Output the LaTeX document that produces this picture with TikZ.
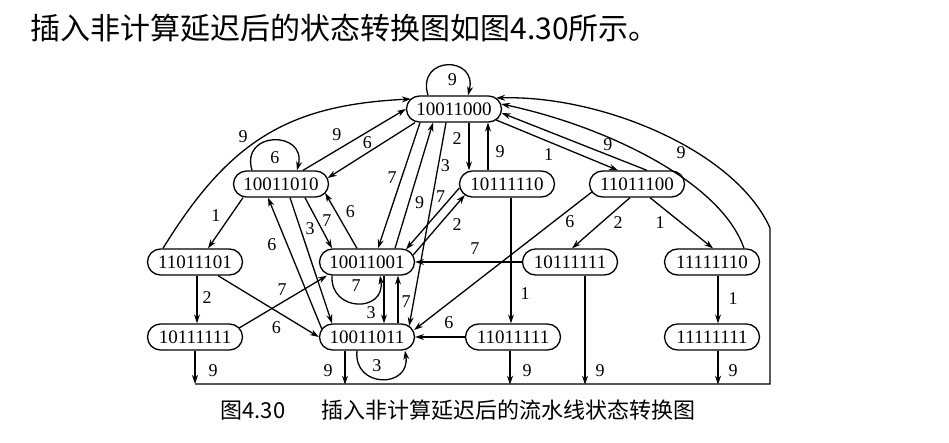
\documentclass[tikz,border=0pt]{standalone}
\usepackage{fontspec}
\setmainfont{Liberation Serif}
\newfontfamily\cjk{Noto Sans CJK SC}
\usetikzlibrary{arrows.meta,shapes.misc}
\tikzset{
  state/.style={draw,rounded rectangle,minimum width=95pt,minimum height=26pt,inner sep=0pt,font=\fontsize{19}{19}\selectfont},
  lab/.style={inner sep=0pt,font=\fontsize{18}{18}\selectfont}
}

\begin{document}
\begin{tikzpicture}[x=1pt,y=-1pt,line width=1.3pt,>={Stealth[length=9pt,width=6pt]}]
\useasboundingbox (0,0) rectangle (949,443);
\node[anchor=west,inner sep=0pt,font=\cjk\fontsize{30}{30}\selectfont] (title) at (30,28) {插入非计算延迟后的状态转换图如图4.30所示。};
% states
\node[state] (A) at (454,109) {10011000};
\node[state] (B) at (281,184) {10011010};
\node[state] (C) at (507,184) {10111110};
\node[state] (D) at (637,184) {11011100};
\node[state] (E) at (195,262) {11011101};
\node[state] (F) at (367,262) {10011001};
\node[state] (G) at (570,262) {10111111};
\node[state] (H) at (712,262) {11111110};
\node[state] (I) at (195,337) {10111111};
\node[state] (J) at (367,337) {10011011};
\node[state] (K) at (513,337) {11011111};
\node[state] (L) at (712,337) {11111111};
% return line along the bottom
\coordinate (fl) at (195,384);
\coordinate (fr) at (770,384);
\coordinate (fc) at (770,228);
% self loops
\draw[->] ([xshift=-26pt]A.north) .. controls +(-12pt,40pt) and +(10pt,40pt) .. ([xshift=14pt]A.north) node[lab,pos=0.5,xshift=5pt,yshift=-14pt]{9};
\draw[->] ([xshift=-29pt]B.north) .. controls +(-12pt,40pt) and +(10pt,40pt) .. ([xshift=16pt]B.north) node[lab,pos=0.5,xshift=1pt,yshift=-17pt]{6};
\draw[->] ([xshift=-35pt]F.south) .. controls +(-2pt,-37pt) and +(6pt,-37pt) .. ([xshift=13pt]F.south) node[lab,pos=0.5,xshift=-1.5pt,yshift=18pt]{7};
\draw[->] ([xshift=-10pt]J.south) .. controls +(-4pt,-38pt) and +(6pt,-38pt) .. ([xshift=38pt]J.south) node[lab,pos=0.5,xshift=-5pt,yshift=13.5pt]{3};
% into and out of 10011000
\draw[->] ([xshift=-32pt]E.north) .. controls +(67pt,109pt) and +(-121.5pt,-6pt) .. ([xshift=5pt,yshift=10pt]A.west) node[lab,pos=0.4,xshift=-1pt,yshift=14pt]{9};
\draw[->] ([xshift=22pt]B.north) -- (A.west) node[lab,pos=0.33,yshift=15pt]{9};
\draw[->] ([xshift=-39pt]A.south) -- ([xshift=-1.5pt,yshift=6pt]B.east) node[lab,pos=0.545,yshift=10.5pt]{6};
\draw[->] ([xshift=-34pt]A.south) -- ([xshift=11pt]F.north) node[lab,pos=0.44,xshift=-9.5pt]{7};
\draw[->] ([xshift=28pt]F.north) -- ([xshift=-21pt]A.south) node[lab,pos=0.36,xshift=11pt]{9};
\draw[->] ([xshift=-8pt]A.south) -- ([xshift=-6pt,yshift=11pt]J.east) node[lab,pos=0.21,xshift=7pt]{3};
\draw[->] ([xshift=15pt]A.south) -- ([xshift=-38pt]C.north) node[lab,pos=0.33,xshift=-12pt]{2};
\draw[->] ([xshift=-19pt]C.north) -- ([xshift=34pt]A.south) node[lab,pos=0.39,xshift=12pt]{9};
\draw[->] ([xshift=-6pt,yshift=-11pt]A.east) -- ([xshift=-19pt]D.north) node[lab,pos=0.43,yshift=-13pt]{1};
\draw[->] ([xshift=10pt]D.north) -- ([xshift=-0.5pt,yshift=-4pt]A.east) node[lab,pos=0.27,yshift=10.5pt]{9};
\draw[->] ([xshift=32pt]H.north) .. controls +(-24pt,69pt) and +(99.5pt,-21pt) .. ([xshift=-1pt,yshift=5pt]A.east) node[lab,pos=0.37,xshift=-3pt,yshift=26pt]{9};
\draw[->] (fl) -- (fr) -- (fc) .. controls +(-35pt,78pt) and +(104.5pt,3pt) .. ([xshift=-6pt,yshift=11pt]A.east);
% left part
\draw[->] ([xshift=-38pt]B.south) -- ([xshift=13pt]E.north) node[lab,pos=0.35,xshift=-15pt]{1};
\draw[->] ([xshift=2pt]E.south) -- ([xshift=2pt]I.north) node[lab,pos=0.45,xshift=10pt]{2};
\draw[->] ([xshift=23pt]E.south) -- (J.west) node[lab,pos=0.58,yshift=-16pt]{6};
\draw[->] ([xshift=-4pt,yshift=9pt]I.east) -- ([xshift=-40pt]F.south) node[lab,pos=0.49,yshift=13pt]{7};
\draw[->] ([xshift=3pt,yshift=8pt]J.west) -- ([xshift=-13pt]B.south) node[lab,pos=0.64,xshift=-15.5pt]{6};
\draw[->] ([xshift=9pt]B.south) -- ([xshift=-35pt]J.north) node[lab,pos=0.25,xshift=9.5pt]{3};
\draw[->] ([xshift=24pt]B.south) -- ([xshift=-35pt]F.north) node[lab,pos=0.46,xshift=9.5pt]{7};
\draw[->] ([xshift=-10pt]F.north) -- ([xshift=-4pt,yshift=-9pt]B.east) node[lab,pos=0.66,xshift=14.5pt]{6};
\draw[->] ([xshift=17pt]F.south) -- ([xshift=17pt]J.north) node[lab,pos=0.78,xshift=-13pt]{3};
\draw[->] ([xshift=31pt]J.north) -- ([xshift=31pt]F.south) node[lab,pos=0.45,xshift=8pt]{7};
% right part
\draw[->] ([xshift=0.5pt,yshift=-4pt]C.west) -- ([xshift=39pt,yshift=-1pt]F.north) node[lab,pos=0.145,xshift=-11pt]{7};
\draw[->] ([xshift=-2pt,yshift=7pt]F.east) -- ([xshift=6pt,yshift=-11pt]C.west) node[lab,pos=0.5,xshift=18pt]{2};
\draw[->] (G.west) -- (F.east) node[lab,pos=0.44,yshift=13pt]{7};
\draw[->] ([xshift=3pt,yshift=-8pt]D.west) -- ([xshift=-1pt,yshift=7pt]J.east) node[lab,pos=0.217,xshift=16.5pt]{6};
\draw[->] ([xshift=-7pt]D.south) -- ([xshift=2pt]G.north) node[lab,pos=0.5,xshift=17pt]{2};
\draw[->] ([xshift=13pt]D.south) -- ([xshift=1pt]H.north) node[lab,pos=0.5,xshift=-21.5pt]{1};
\draw[->] ([xshift=4pt]C.south) -- ([xshift=-2pt]K.north) node[lab,pos=0.76,xshift=14pt]{1};
\draw[->] (K.west) -- (J.east) node[lab,pos=0.32,yshift=14pt]{6};
\draw[->] ([xshift=6pt]H.south) -- ([xshift=6pt]L.north) node[lab,pos=0.47,xshift=15pt]{1};
% drops to the return line
\draw[->] (I.south) -- (fl) node[lab,pos=0.59,xshift=18pt]{9};
\draw[->] ([xshift=-22pt]J.south) -- ++(0pt,-34pt) node[lab,pos=0.59,xshift=-17pt]{9};
\draw[->] ([xshift=-3pt]K.south) -- ++(0pt,-34pt) node[lab,pos=0.59,xshift=17pt]{9};
\draw[->] ([xshift=15pt]G.south) -- ++(0pt,-109pt) node[lab,pos=0.87,xshift=15pt]{9};
\draw[->] ([xshift=6pt]L.south) -- ++(0pt,-34pt) node[lab,pos=0.59,xshift=15pt]{9};
\node[anchor=west,inner sep=0pt,font=\cjk\fontsize{22}{22}\selectfont] (cap) at (220,410) {图4.30\hspace{36pt}插入非计算延迟后的流水线状态转换图};
\end{tikzpicture}
\end{document}
